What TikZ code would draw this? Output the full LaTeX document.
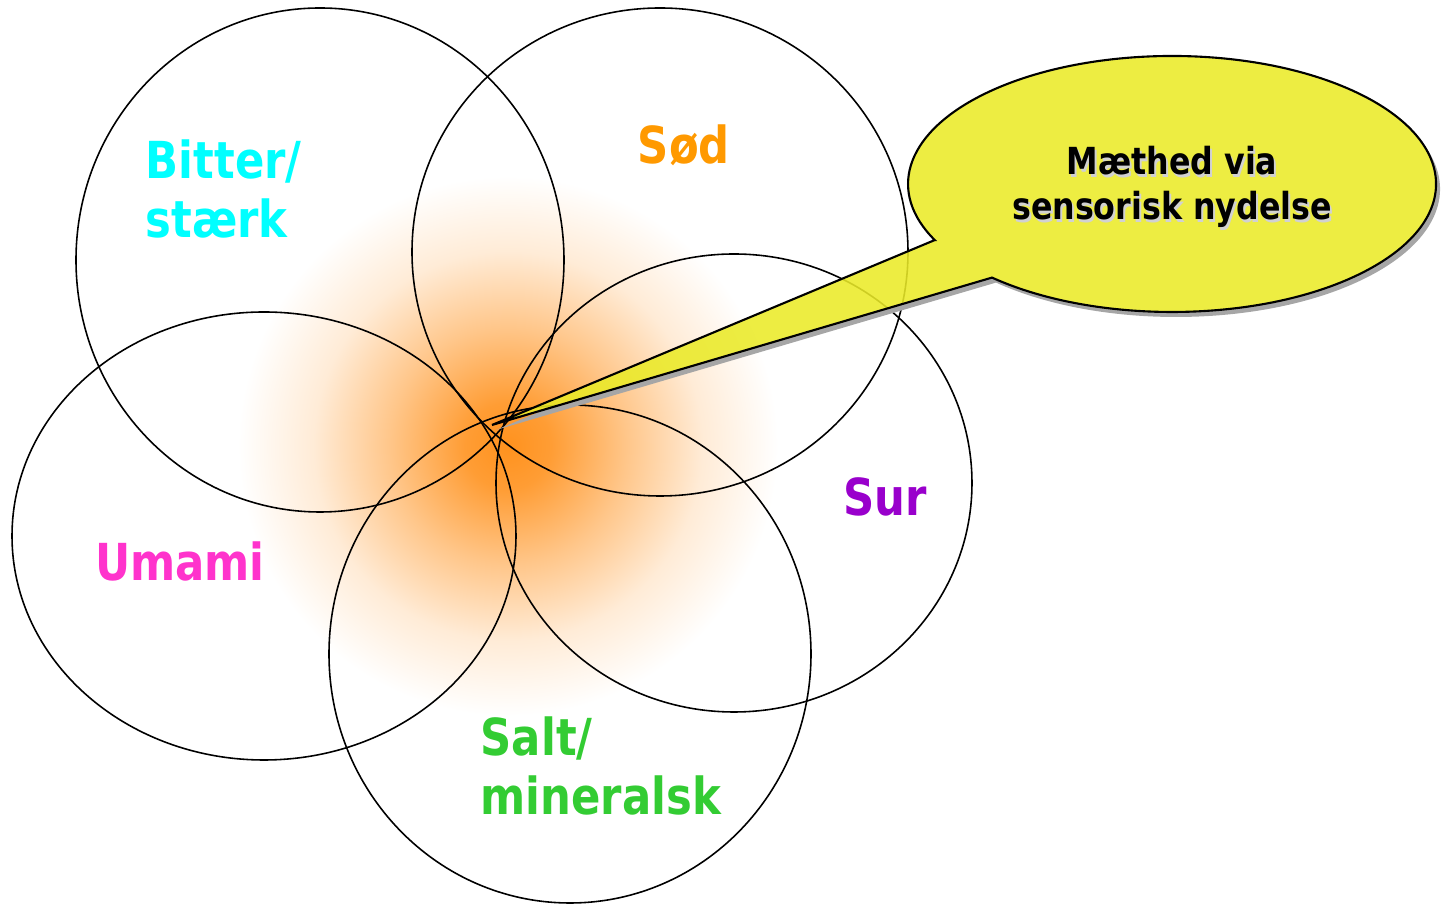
\documentclass[tikz,border=0pt]{standalone}
\usepackage{fontspec}
\setmainfont{DejaVu Sans}[FakeStretch=0.85]
\usepackage{xcolor}
\usetikzlibrary{calc}

\definecolor{bittercol}{RGB}{0,255,255}
\definecolor{sodcol}{RGB}{255,153,0}
\definecolor{surcol}{RGB}{153,0,204}
\definecolor{umamicol}{RGB}{255,51,204}
\definecolor{saltcol}{RGB}{51,204,51}
\definecolor{glowcol}{RGB}{255,146,30}
\definecolor{calloutcol}{RGB}{234,234,40}

\pgfdeclareradialshading{tasteglow}{\pgfpoint{0bp}{0bp}}{%
  color(0bp)=(glowcol); color(4bp)=(glowcol!90!white);
  color(11bp)=(glowcol!52!white); color(18bp)=(glowcol!18!white);
  color(25bp)=(white); color(50bp)=(white)}

\begin{document}
\begin{tikzpicture}[x=0.01cm,y=0.01cm,
  taste/.style={draw=black,line width=0.45pt},
  tastelabel/.style={font=\fontsize{14.5}{16.5}\selectfont\bfseries,inner sep=0pt,align=left},
  calloutbox/.style={draw=black,line width=0.6pt,fill=calloutcol,fill opacity=0.88}]
\useasboundingbox (0,0) rectangle (1447,906);
\def\calloutpath{(934.7,665.9) -- (492,481) -- (992,628.4)
  arc[start angle=227,end angle=566,x radius=264,y radius=128] -- cycle}

% glow in the middle
\shade[shading=tasteglow] (508,460) circle (270);

% five tastes
\draw[taste] (320,646) ellipse (244 and 252);
\draw[taste] (660,654) ellipse (248 and 244);
\draw[taste] (734,423) ellipse (238 and 229);
\draw[taste] (570,252) ellipse (241 and 249);
\draw[taste] (264,370) ellipse (252 and 224);

\node[tastelabel,anchor=west,text=bittercol] (bitter) at (145,717) {Bitter/\\stærk};
\node[tastelabel,text=sodcol] (sod) at (684,761) {Sød};
\node[tastelabel,text=surcol] (sur) at (885,409) {Sur};
\node[tastelabel,text=umamicol] (umami) at (180,345) {Umami};
\node[tastelabel,anchor=west,text=saltcol] (salt) at (480,140) {Salt/\\mineralsk};

% callout with shadow
\begin{scope}[even odd rule]
\clip (-20,-20) rectangle (1470,930) \calloutpath;
\fill[black!35,shift={(4,-5)}] \calloutpath;
\end{scope}
\draw[calloutbox] \calloutpath;
\node[font=\fontsize{10.6}{12.8}\selectfont\bfseries,align=center,text=black!18] (mathedshadow) at (1174,716) {Mæthed via\\sensorisk nydelse};
\node[font=\fontsize{10.6}{12.8}\selectfont\bfseries,align=center] (mathed) at (1172,719) {Mæthed via\\sensorisk nydelse};
\end{tikzpicture}
\end{document}
